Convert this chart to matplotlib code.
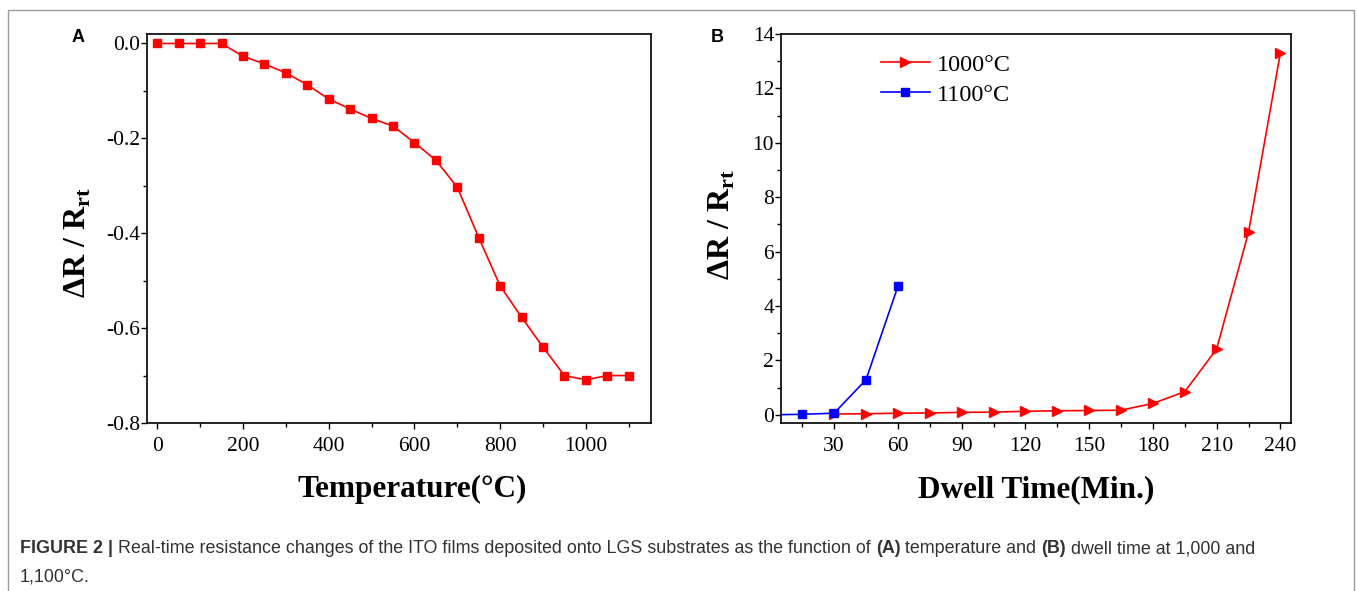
import matplotlib.pyplot as plt
from matplotlib.patches import Rectangle
from matplotlib.ticker import MultipleLocator

# panel A: resistance change vs temperature
temp_c = [0, 50, 100, 150, 200, 250, 300, 350, 400, 450, 500, 550,
          600, 650, 700, 750, 800, 850, 900, 950, 1000, 1050, 1100]
dr_temp = [0.0, 0.0, 0.0, 0.0, -0.027, -0.043, -0.062, -0.087, -0.117, -0.138,
           -0.158, -0.174, -0.209, -0.246, -0.303, -0.409, -0.511, -0.577,
           -0.640, -0.700, -0.709, -0.700, -0.700]

# panel B: resistance change vs dwell time
dwell_1000 = [30, 45, 60, 75, 90, 105, 120, 135, 150, 165, 180, 195, 210, 225, 240]
dr_1000 = [0.03, 0.04, 0.06, 0.07, 0.09, 0.10, 0.13, 0.15, 0.16, 0.17,
           0.42, 0.85, 2.42, 6.71, 13.3]
dwell_1100 = [0, 15, 30, 45, 60]
dr_1100 = [0.0, 0.02, 0.06, 1.29, 4.72]

W, H = 1357, 591

plt.rcParams['font.family'] = 'Liberation Serif'
plt.rcParams['mathtext.fontset'] = 'custom'
plt.rcParams['mathtext.bf'] = 'Liberation Serif:bold'
plt.rcParams['mathtext.rm'] = 'Liberation Serif'

fig = plt.figure(figsize=(W / 100, H / 100), dpi=100)

# gray page frame
fig.patches.append(Rectangle((8 / W, -0.1), (1354 - 8) / W, 1.1 - 10 / H,
                             transform=fig.transFigure, fill=False,
                             edgecolor='#9a9a9a', lw=1))

axA = fig.add_axes([147 / W, (H - 423) / H, 504 / W, 389 / H])
axB = fig.add_axes([781 / W, (H - 423) / H, 510 / W, 389 / H])

ylab = 'ΔR / R$_\\mathbf{rt}$'


def style_axis(ax):
    for s in ax.spines.values():
        s.set_linewidth(1.2)
    ax.tick_params(which='both', direction='out', top=False, right=False,
                   labelsize=15.5, width=1.0)
    ax.tick_params(axis='x', which='major', length=4, pad=6)
    ax.tick_params(axis='y', which='major', length=4, pad=1)
    ax.tick_params(which='minor', length=3)


# panel A
axA.plot(temp_c, dr_temp, color='#ff0000', lw=1.2, marker='s', ms=5.5)
axA.set_xlim(-24, 1152)
axA.set_ylim(-0.8, 0.02)
axA.xaxis.set_major_locator(MultipleLocator(200))
axA.xaxis.set_minor_locator(MultipleLocator(100))
axA.yaxis.set_major_locator(MultipleLocator(0.2))
axA.yaxis.set_minor_locator(MultipleLocator(0.1))
axA.set_yticks([0.0, -0.2, -0.4, -0.6, -0.8])
axA.set_yticklabels(['0.0', '-0.2', '-0.4', '-0.6', '-0.8'])
style_axis(axA)
axA.set_xlabel('Temperature(°C)', fontsize=22.5, fontweight='bold', labelpad=14)
axA.set_ylabel(ylab, fontsize=23, fontweight='bold', labelpad=9)
axA.xaxis.label.set_x(0.527)
axA.yaxis.label.set_y(0.463)

# panel B
axB.plot(dwell_1000, dr_1000, color='#ff0000', lw=1.2, marker='>', ms=6.5,
         label='1000°C')
axB.plot(dwell_1100, dr_1100, color='#0000ff', lw=1.2, marker='s', ms=5.5,
         label='1100°C')
axB.set_xlim(5, 245)
axB.set_ylim(-0.3, 14)
axB.xaxis.set_major_locator(MultipleLocator(30))
axB.xaxis.set_minor_locator(MultipleLocator(15))
axB.yaxis.set_major_locator(MultipleLocator(2))
axB.yaxis.set_minor_locator(MultipleLocator(1))
style_axis(axB)
axB.set_xlabel('Dwell Time(Min.)', fontsize=22.5, fontweight='bold', labelpad=14)
axB.set_ylabel(ylab, fontsize=23, fontweight='bold', labelpad=11)
axB.yaxis.label.set_y(0.51)
axB.legend(loc='upper left', bbox_to_anchor=(0.196, 0.949), frameon=False,
           fontsize=17.5, handlelength=2.0, handletextpad=0.3, labelspacing=0.33,
           borderpad=0, borderaxespad=0)

# panel letters
fig.text(78 / W, 1 - 38 / H, 'A', family='Liberation Sans', fontweight='bold',
         fontsize=13, ha='center', va='center')
fig.text(717 / W, 1 - 38 / H, 'B', family='Liberation Sans', fontweight='bold',
         fontsize=13, ha='center', va='center')

# caption, built piece by piece so bold parts sit inline
cap_ax = fig.add_axes([0, 0, 1, 1], zorder=-1)
cap_ax.axis('off')
cap_kw = dict(family='Liberation Sans', fontsize=12.9, color='#333333',
              ha='left')


def caption_line(pieces, x, y):
    prev = None
    for txt, weight in pieces:
        if prev is None:
            prev = cap_ax.text(x, y, txt, fontweight=weight, va='baseline',
                               transform=fig.transFigure, **cap_kw)
        else:
            prev = cap_ax.annotate(txt, xy=(1, 0), xycoords=prev,
                                   fontweight=weight, annotation_clip=False,
                                   va='bottom', **cap_kw)


caption_line([('FIGURE 2 |', 'bold'),
              (' Real-time resistance changes of the ITO films deposited onto LGS '
               'substrates as the function of ', 'normal'),
              ('(A)', 'bold'),
              (' temperature and ', 'normal'),
              ('(B)', 'bold'),
              (' dwell time at 1,000 and', 'normal')],
             20 / W, 1 - 553 / H)
caption_line([('1,100°C.', 'normal')], 20 / W, 1 - 581 / H)

fig.savefig('out.png', dpi=100)
